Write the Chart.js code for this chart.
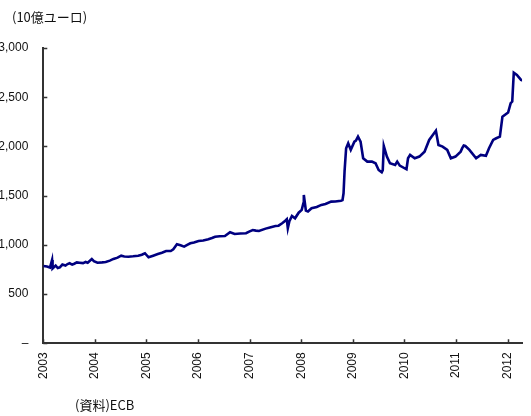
<!DOCTYPE html>
<html><head><meta charset="utf-8">
<script src="https://cdn.jsdelivr.net/npm/chart.js@4"></script>
<style>
html,body{margin:0;padding:0;background:#fff;width:531px;height:416px;overflow:hidden;position:relative;}
#wrap{position:absolute;left:-20px;top:0;width:551px;height:416px;}
.txt{position:absolute;font-family:"Noto Sans CJK JP",sans-serif;font-size:13px;color:#111;white-space:nowrap;line-height:1;}
</style></head>
<body>
<div id="wrap"><canvas id="c" width="551" height="416"></canvas></div>
<div class="txt" style="left:12px;top:10px;">(10億ユーロ)</div>
<div class="txt" style="left:75px;top:398px;">(資料)ECB</div>
<script>
const yearTicks = [2003,2004,2005,2006,2007,2008,2009,2010,2011,2012];
const yTicks = [0,500,1000,1500,2000,2500,3000];
const dates = [
2003.00,2003.07,2003.13,2003.17,2003.18,2003.24,2003.28,2003.32,2003.37,2003.43,
2003.47,2003.51,2003.56,2003.60,2003.65,2003.70,2003.77,2003.82,2003.86,2003.94,2003.98,2004.05,2004.14,2004.21,
2004.29,2004.36,2004.44,2004.51,2004.57,2004.65,2004.74,2004.84,2004.91,2004.97,
2005.04,2005.13,2005.22,2005.30,2005.38,2005.47,2005.52,2005.59,2005.66,2005.73,
2005.79,2005.85,2005.92,2006.01,2006.10,2006.20,2006.27,2006.33,2006.42,2006.52,
2006.62,2006.71,2006.82,2006.93,2006.99,2007.06,2007.12,2007.18,2007.31,2007.41,
2007.50,2007.56,2007.63,2007.69,2007.72,2007.74,2007.77,2007.82,2007.88,2007.95,
2008.01,2008.04,2008.05,2008.09,2008.13,2008.20,2008.30,2008.39,2008.47,2008.58,
2008.66,2008.77,2008.80,2008.82,2008.84,2008.87,2008.91,2008.96,2009.03,2009.06,
2009.10,2009.15,2009.20,2009.28,2009.37,2009.44,2009.50,2009.56,2009.58,2009.60,
2009.66,2009.72,2009.82,2009.86,2009.91,2010.04,2010.07,2010.11,2010.20,2010.29,
2010.39,2010.48,2010.55,2010.61,2010.66,2010.74,2010.83,2010.90,2010.99,2011.09,
2011.12,2011.15,2011.18,2011.26,2011.39,2011.48,2011.58,2011.64,2011.72,2011.78,
2011.85,2011.90,2012.01,2012.06,2012.09,2012.12,2012.18,2012.26,2012.35
];
const values = [
786,780,770,847,760,790,765,772,800,790,
805,813,800,808,822,819,815,826,819,857,835,819,822,826,
840,857,870,890,882,880,884,890,900,915,
874,890,907,920,938,938,955,1006,995,982,
1000,1016,1025,1040,1045,1057,1070,1083,1088,1090,
1128,1111,1115,1118,1135,1151,1145,1141,1165,1180,
1192,1195,1220,1245,1260,1169,1240,1294,1270,1327,
1355,1420,1507,1348,1340,1372,1385,1406,1415,1439,
1440,1449,1456,1524,1750,1982,2033,1965,2049,2060,
2100,2049,1880,1846,1846,1829,1761,1738,1760,2005,
1897,1829,1812,1846,1805,1768,1880,1914,1880,1897,
1947,2066,2117,2160,2015,1998,1965,1880,1897,1947,
1982,2010,2005,1965,1880,1914,1905,1982,2066,2083,
2100,2303,2344,2439,2456,2750,2727,2676,2660
];

const innerTicks = {
  id:'innerTicks',
  afterDraw(chart){
    const {ctx, chartArea:a, scales:{x,y}} = chart;
    ctx.save();
    ctx.strokeStyle = '#333'; ctx.lineWidth = 1.5;
    ctx.beginPath();
    yTicks.forEach(v=>{ const p=Math.round(y.getPixelForValue(v))+0.5; ctx.moveTo(a.left,p); ctx.lineTo(a.left+4,p); });
    yearTicks.forEach(v=>{ const p=Math.round(x.getPixelForValue(v))+0.5; ctx.moveTo(p,a.bottom); ctx.lineTo(p,a.bottom-4); });
    ctx.stroke();
    ctx.restore();
  }
};

new Chart(document.getElementById('c'), {
  type:'line',
  data:{ datasets:[{ data: dates.map((d,i)=>({x:d,y:values[i]})), borderColor:'#000080', borderWidth:2.6, pointRadius:0, tension:0, fill:false }]},
  options:{
    responsive:false, animation:false, devicePixelRatio:1,
    layout:{padding:{top:48,right:0,bottom:0,left:0}},
    plugins:{legend:{display:false}, tooltip:{enabled:false}},
    scales:{
      x:{ type:'linear', min:2003, max:2012.28,
        afterBuildTicks(s){ s.ticks = yearTicks.map(v=>({value:v})); },
        afterFit(s){ s.height = 72.7; },
        grid:{display:false, drawTicks:false},
        border:{display:true, color:'#333', width:2},
        ticks:{ autoSkip:false, minRotation:90, maxRotation:90, padding:9, color:'#111',
          font:{family:'Liberation Sans', size:12}, callback:v=>String(v) } },
      y:{ min:0, max:3000,
        afterBuildTicks(s){ s.ticks = yTicks.map(v=>({value:v})); },
        afterFit(s){ s.width = 63.3; },
        grid:{display:false, drawTicks:false},
        border:{display:true, color:'#333', width:2},
        ticks:{ padding:15, color:'#111', font:{family:'Liberation Sans', size:12},
          callback:v=> v===0 ? '–' : v.toLocaleString('en-US') } }
    }
  },
  plugins:[innerTicks]
});
</script>
</body></html>
